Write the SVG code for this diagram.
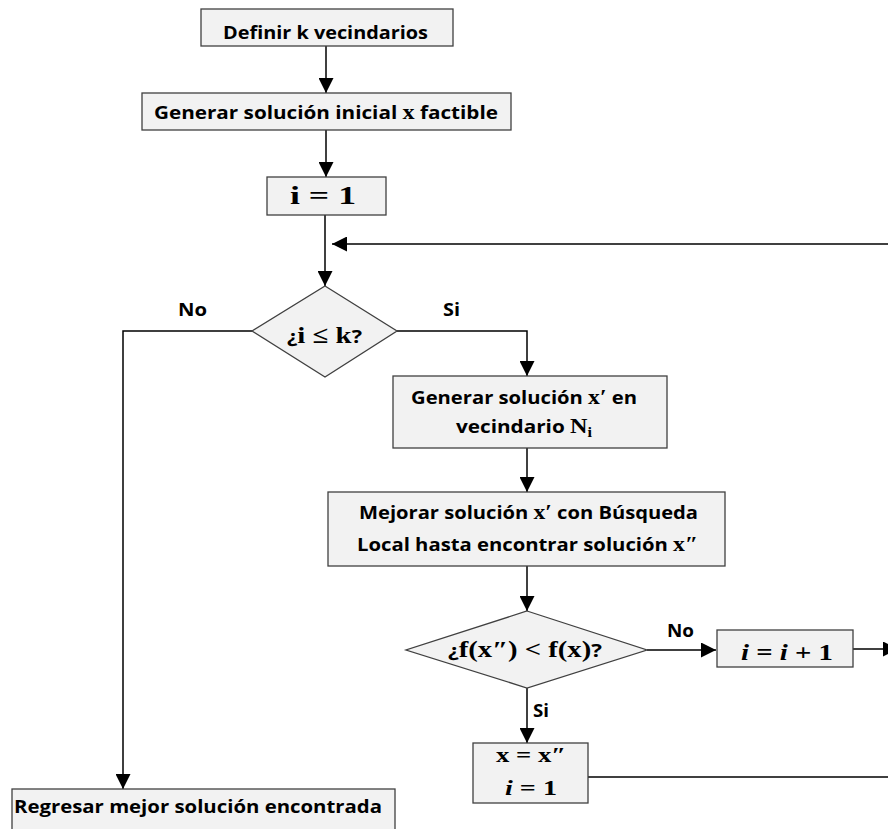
<svg xmlns="http://www.w3.org/2000/svg" width="888" height="829" viewBox="0 0 888 829">
  <defs>
    <marker id="arrow" markerUnits="userSpaceOnUse" markerWidth="15" markerHeight="15" refX="15" refY="7.5" orient="auto">
      <path d="M0,0 L15,7.5 L0,15 Z" fill="#000"/>
    </marker>
    <style>
      .box { fill: #f2f2f2; stroke: #404040; stroke-width: 1.3; }
      .conn { fill: none; stroke: #000; stroke-width: 1.5; marker-end: url(#arrow); }
      .line { fill: none; stroke: #000; stroke-width: 1.5; }
      .t { font-family: "Open Sans", "Liberation Sans", sans-serif; font-weight: bold; font-size: 18px; fill: #000; }
      .m { font-family: "Liberation Serif", "DejaVu Serif", serif; font-weight: bold; }
      .mi { font-family: "Liberation Serif", "DejaVu Serif", serif; font-weight: bold; font-style: italic; }
    </style>
  </defs>
  <rect width="888" height="829" fill="#fff"/>

  <!-- connectors -->
  <g id="connectors">
    <path class="conn" d="M326,46 V93"/>
    <path class="conn" d="M326,130 V177"/>
    <path class="conn" d="M325,215 V286"/>
    <path class="conn" d="M900,244 H332"/>
    <path class="conn" d="M252,331 H123 V789"/>
    <path class="conn" d="M397,331 H527 V376"/>
    <path class="conn" d="M527,448 V492"/>
    <path class="conn" d="M527,566 V611"/>
    <path class="conn" d="M647,650 H716"/>
    <path class="conn" d="M853,649 H898"/>
    <path class="conn" d="M527,688 V743"/>
    <path class="line" d="M588,777 H890"/>
  </g>

  <!-- labels on connectors -->
  <g id="edge-labels">
    <text class="t" x="178" y="316" textLength="29" lengthAdjust="spacingAndGlyphs">No</text>
    <text class="t" x="443" y="316" textLength="17" lengthAdjust="spacingAndGlyphs">Si</text>
    <text class="t" x="667" y="637" textLength="27" lengthAdjust="spacingAndGlyphs">No</text>
    <text class="t" x="533" y="717" textLength="16" lengthAdjust="spacingAndGlyphs">Si</text>
  </g>

  <g id="define">
    <rect class="box" x="201" y="9" width="252" height="37"/>
    <text class="t" x="223" y="39" textLength="205" lengthAdjust="spacingAndGlyphs">Definir k vecindarios</text>
  </g>

  <g id="initial">
    <rect class="box" x="142" y="93" width="369" height="37"/>
    <text class="t" x="154" y="119" textLength="344" lengthAdjust="spacingAndGlyphs">Generar solución inicial <tspan class="m" font-size="21">x</tspan> factible</text>
  </g>

  <g id="init-i">
    <rect class="box" x="267" y="177" width="119" height="38"/>
    <text class="m" x="290" y="204" font-size="26" textLength="66" lengthAdjust="spacingAndGlyphs">i = 1</text>
  </g>

  <g id="check-k">
    <polygon class="box" points="325,286 397,331 325,377 252,331"/>
    <text class="t" x="287" y="343" textLength="75" lengthAdjust="spacingAndGlyphs">¿<tspan class="m" font-size="24">i ≤ k</tspan>?</text>
  </g>

  <g id="shake">
    <rect class="box" x="393" y="376" width="274" height="72"/>
    <text class="t" x="411" y="404" textLength="226" lengthAdjust="spacingAndGlyphs">Generar solución <tspan class="m" font-size="21">x′</tspan> en</text>
    <text class="t" x="456" y="433" textLength="136" lengthAdjust="spacingAndGlyphs">vecindario <tspan class="m" font-size="21">N</tspan><tspan class="m" font-size="14" dy="4">i</tspan></text>
  </g>

  <g id="local-search">
    <rect class="box" x="328" y="492" width="397" height="74"/>
    <text class="t" x="359" y="519" textLength="339" lengthAdjust="spacingAndGlyphs">Mejorar solución <tspan class="m" font-size="21">x′</tspan> con Búsqueda</text>
    <text class="t" x="357" y="551" textLength="341" lengthAdjust="spacingAndGlyphs">Local hasta encontrar solución <tspan class="m" font-size="21">x″</tspan></text>
  </g>

  <g id="check-improve">
    <polygon class="box" points="527,611 647,650 527,688 406,650"/>
    <text class="t" x="448" y="657" textLength="154" lengthAdjust="spacingAndGlyphs">¿<tspan class="m" font-size="23">f(x″) &lt; f(x)</tspan>?</text>
  </g>

  <g id="next-i">
    <rect class="box" x="717" y="630" width="136" height="37"/>
    <text class="m" x="741" y="660" font-size="24" textLength="92" lengthAdjust="spacingAndGlyphs"><tspan class="mi">i</tspan> = <tspan class="mi">i</tspan> + 1</text>
  </g>

  <g id="move">
    <rect class="box" x="473" y="743" width="115" height="60"/>
    <text class="m" x="496" y="762" font-size="22" textLength="70" lengthAdjust="spacingAndGlyphs">x = x″</text>
    <text class="m" x="505" y="795" font-size="22" textLength="52" lengthAdjust="spacingAndGlyphs"><tspan class="mi">i</tspan> = 1</text>
  </g>

  <g id="result">
    <rect class="box" x="12" y="789" width="383" height="50"/>
    <text class="t" x="14" y="813" textLength="368" lengthAdjust="spacingAndGlyphs">Regresar mejor solución encontrada</text>
  </g>
</svg>
